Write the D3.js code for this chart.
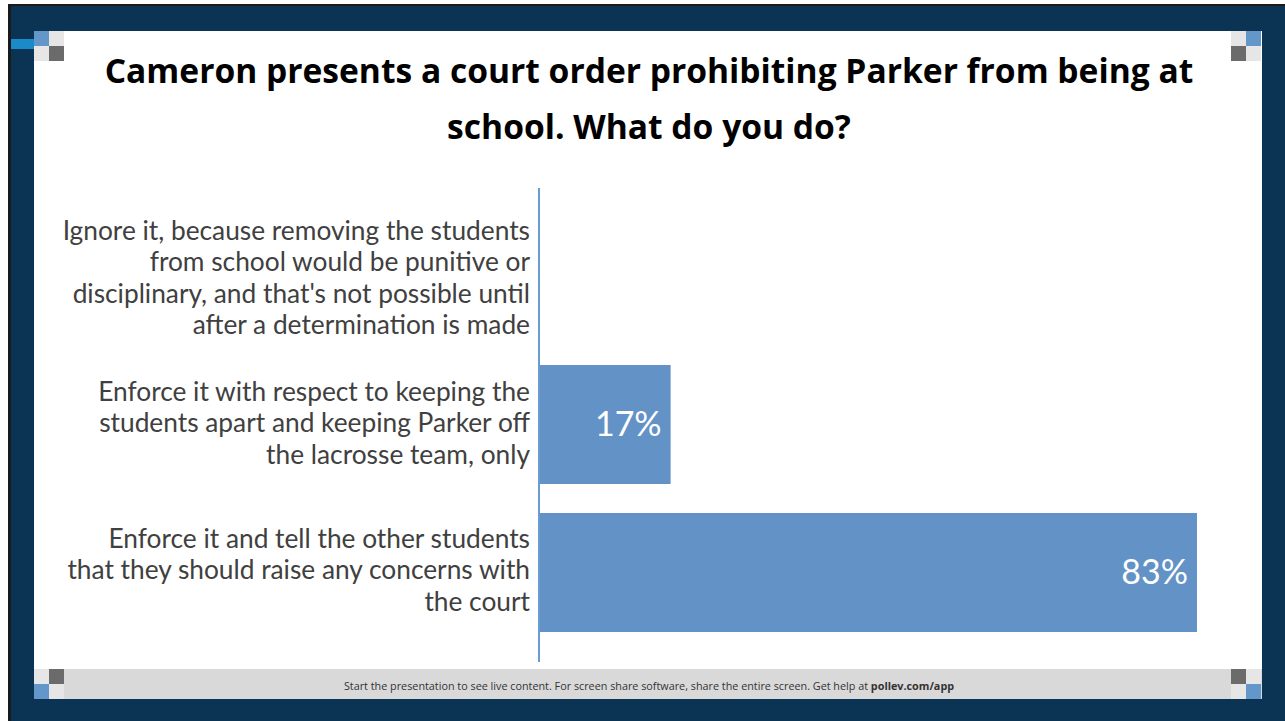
<!DOCTYPE html>
<html><head><meta charset="utf-8">
<script src="https://cdn.jsdelivr.net/npm/d3@7"></script>
<style>html,body{margin:0;padding:0;background:#fff;overflow:hidden}</style>
</head><body>
<svg id="c" width="1285" height="721"></svg>
<script>
const titleLines = ["Cameron presents a court order prohibiting Parker from being at", "school. What do you do?"];
const categories = ["ignore", "enforceApart", "enforceTell"];
const categoryLabels = [
  ["Ignore it, because removing the students", "from school would be punitive or", "disciplinary, and that's not possible until", "after a determination is made"],
  ["Enforce it with respect to keeping the", "students apart and keeping Parker off", "the lacrosse team, only"],
  ["Enforce it and tell the other students", "that they should raise any concerns with", "the court"]
];
const values = [0, 16.67, 83.33];
const valueLabels = ["", "17%", "83%"];
const footerText = "Start the presentation to see live content. For screen share software, share the entire screen. Get help at ";
const footerLink = "pollev.com/app";

const svg = d3.select("#c");
const navy = "#0b3353";
// background
svg.append("rect").attr("width",1285).attr("height",721).attr("fill","#fff");
svg.append("rect").attr("x",8).attr("y",4).attr("width",1277).attr("height",717).attr("fill","#1a1a1a");
svg.append("rect").attr("x",11).attr("y",6).attr("width",1274).attr("height",715).attr("fill",navy);
// white panel
svg.append("rect").attr("x",34).attr("y",31).attr("width",1228).attr("height",668).attr("fill","#fff");
// footer bar
svg.append("rect").attr("x",34).attr("y",669).attr("width",1228).attr("height",30).attr("fill","#d9d9d9");
// blue tab top-left
svg.append("rect").attr("x",11).attr("y",39).attr("width",23).attr("height",10).attr("fill","#1b8ac8");
const blue="#6396c9", lg="#e6e6e6", dg="#6b6b6b";
function sq(x,y,c){svg.append("rect").attr("x",x).attr("y",y).attr("width",15).attr("height",15).attr("fill",c);}
sq(34,31,blue); sq(49,31,lg); sq(34,46,lg); sq(49,46,dg);
sq(1231,31,lg); sq(1246,31,blue); sq(1231,46,dg); sq(1246,46,lg);
sq(34,669,lg); sq(49,669,dg); sq(34,684,blue); sq(49,684,lg);
sq(1231,669,dg); sq(1246,669,lg); sq(1231,684,lg); sq(1246,684,blue);

// title
const title = svg.append("text").attr("text-anchor","middle")
  .attr("font-family","'Open Sans', sans-serif").attr("font-weight","bold")
  .attr("font-size",33.6).attr("fill","#000");
titleLines.forEach((t,i)=>title.append("tspan").attr("x",649).attr("y",83+i*56).text(t));

// scales
const y = d3.scaleBand().domain(categories).range([202.5,646.5]).paddingInner(0.196).paddingOuter(0.098);
const x = d3.scaleLinear().domain([0, d3.max(values)]).range([539, 1197]);
const barColor = "#6393c6";

svg.append("g").selectAll("rect").data(categories).join("rect")
  .attr("x", x(0)).attr("y", d=>y(d))
  .attr("width", (d,i)=>x(values[i])-x(0))
  .attr("height", y.bandwidth())
  .attr("fill", barColor);

// axis line
svg.append("line").attr("x1",539).attr("x2",539).attr("y1",188).attr("y2",662)
  .attr("stroke","#6a9bd1").attr("stroke-width",2);

// category labels
const lh = 31.5;
const labelShift = [1.5, -1.5, -2.5];
categories.forEach((c,i)=>{
  const lines = categoryLabels[i];
  const cy = y(c)+y.bandwidth()/2 + labelShift[i];
  const t = svg.append("text").attr("text-anchor","end")
    .attr("font-family","Lato, sans-serif").attr("font-size",26.3).attr("fill","#404040");
  lines.forEach((l,j)=>{
    t.append("tspan").attr("x",530).attr("y", cy + (j-(lines.length-1)/2)*lh).attr("dy","0.35em").text(l);
  });
});

// value labels
svg.append("g").selectAll("text").data(categories).join("text")
  .attr("x",(d,i)=>x(values[i])-9).attr("y",d=>y(d)+y.bandwidth()/2).attr("dy","0.35em")
  .attr("text-anchor","end").attr("font-family","Lato, sans-serif").attr("font-size",34)
  .attr("fill","#fff").text((d,i)=>valueLabels[i]);

// footer
const ft = svg.append("text").attr("x",649).attr("y",690).attr("text-anchor","middle")
  .attr("font-family","'Open Sans', sans-serif").attr("font-size",10.8).attr("fill","#333");
ft.append("tspan").text(footerText);
ft.append("tspan").attr("font-weight","bold").text(footerLink);
</script>
</body></html>
